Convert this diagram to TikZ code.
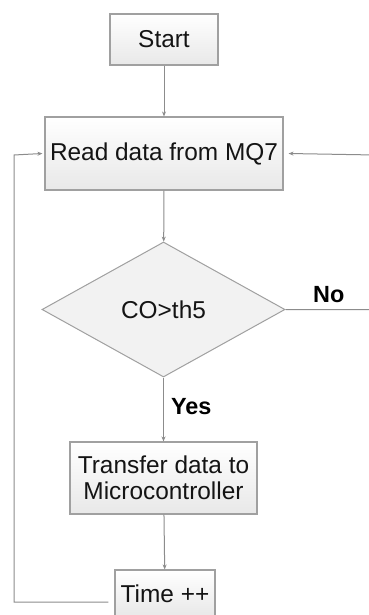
\documentclass[tikz,border=0pt]{standalone}
\usepackage{fontspec}
\setmainfont{Liberation Sans}
\usetikzlibrary{shapes.geometric,arrows.meta}
\definecolor{linegray}{HTML}{8C8C8C}
\definecolor{boxedge}{HTML}{A0A0A0}
\definecolor{txt}{HTML}{141414}
\tikzset{
  procbox/.style={draw=boxedge, line width=1.1bp, top color=white, bottom color=black!9,
    inner sep=0pt, align=center, text=txt, font=\fontsize{24.5}{28}\selectfont},
  decision/.style={diamond, draw=boxedge, line width=1bp, fill=black!5,
    inner sep=0pt, text=txt, font=\fontsize{24.5}{28}\selectfont},
  flow/.style={draw=linegray, line width=1bp, -{Stealth[length=5bp,width=4bp]}},
  branch/.style={font=\bfseries\fontsize{23.5}{27}\selectfont, text=black, inner sep=0pt}
}
\begin{document}
\begin{tikzpicture}[x=1bp, y=-1bp]
  \useasboundingbox (0,0) rectangle (368,615);
  \fill[white] (0,0) rectangle (368,615);

  \node[procbox, minimum width=108bp, minimum height=51bp] (start) at (164,39.5) {Start};
  \node[procbox, minimum width=238bp, minimum height=73bp] (read) at (164,153.5) {Read data from MQ7};
  \node[decision, minimum width=243bp, minimum height=135bp] (test) at (163.5,309.5) {CO>th5};
  \node[procbox, minimum width=187bp, minimum height=72bp, font=\fontsize{24.5}{26.5}\selectfont] (xfer) at (163.5,478) {Transfer data to\\Microcontroller};
  \node[procbox, minimum width=100bp, minimum height=47bp] (time) at (165,593.5) {Time ++};

  \coordinate (rtop) at (375,155);
  \coordinate (rbot) at (375,309.5);
  \coordinate (lbot) at (14,602);
  \coordinate (ltop) at (14,155);

  \draw[flow] (start) -- (read);
  \draw[flow] (read) -- (test);
  \draw[flow] (test) -- node[branch, right=7bp, pos=0.45] (yes) {Yes} (xfer);
  \draw[flow] (xfer) -- (time);
  \draw[flow] (test.east) -- (rbot) -- (rtop) -- ([xshift=5bp]read.east);
  \draw[flow] ([xshift=-6bp]time.west |- lbot) -- (lbot) -- (ltop) -- ([xshift=-2bp]read.west);

  \node[branch, anchor=west] (no) at (313,295) {No};
\end{tikzpicture}
\end{document}
